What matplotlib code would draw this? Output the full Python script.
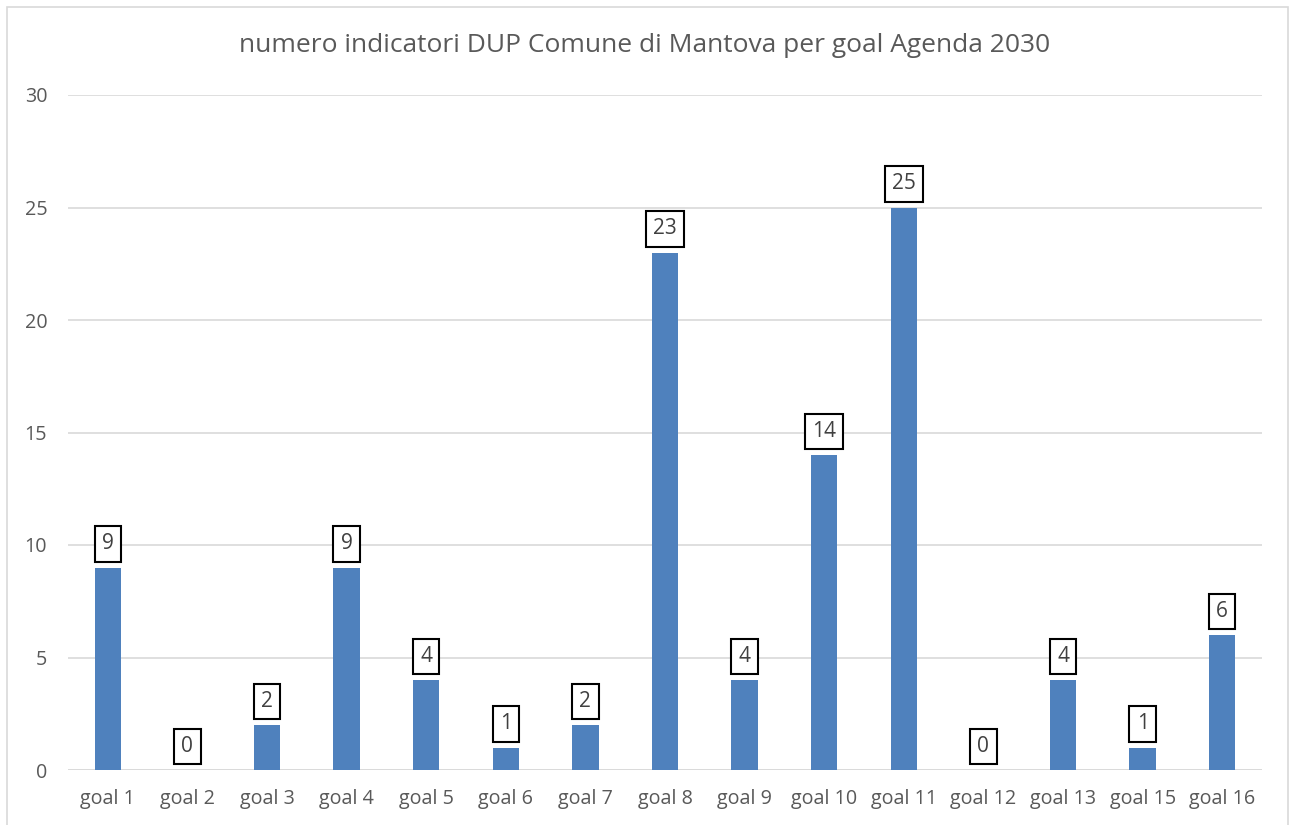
import matplotlib.pyplot as plt
from matplotlib.patches import Rectangle

goals = ["goal 1", "goal 2", "goal 3", "goal 4", "goal 5", "goal 6", "goal 7", "goal 8",
         "goal 9", "goal 10", "goal 11", "goal 12", "goal 13", "goal 15", "goal 16"]
counts = [9, 0, 2, 9, 4, 1, 2, 23, 4, 14, 25, 0, 4, 1, 6]
yticks = [0, 5, 10, 15, 20, 25, 30]

plt.rcParams['font.family'] = ['Open Sans', 'DejaVu Sans']

fig = plt.figure(figsize=(12.9, 8.25), dpi=100)
ax = fig.add_axes([68 / 1290, 1 - 770 / 825, (1262 - 68) / 1290, (770 - 95) / 825])

x = range(len(goals))
ax.bar(x, counts, width=0.33, color="#4F81BD", zorder=3)

# boxed value labels above each bar
for xi, v in zip(x, counts):
    ax.annotate(str(v), (xi, v), xytext=(0, 9.5), textcoords="offset points",
                ha="center", va="bottom", fontsize=15, color="#404040",
                bbox=dict(boxstyle="square,pad=0.35", fc="white", ec="black", lw=1.5),
                zorder=5)

ax.set_xlim(-0.5, len(goals) - 0.5)
ax.set_ylim(0, 30)
ax.set_yticks(yticks)
ax.set_xticks(list(x))
ax.set_xticklabels(goals)
ax.tick_params(axis="both", length=0, labelsize=14.2, colors="#595959")
ax.tick_params(axis="x", pad=14)
ax.tick_params(axis="y", pad=15)
ax.grid(axis="y", color="#D9D9D9", linewidth=1.2, zorder=0)
for s in ax.spines.values():
    s.set_visible(False)
ax.axhline(0, color="#D9D9D9", linewidth=1.2, zorder=1)

fig.text(0.5, 1 - 45 / 825, "numero indicatori DUP Comune di Mantova per goal Agenda 2030",
         ha="center", va="center", fontsize=19, color="#595959")

fig.patches.append(Rectangle((7 / 1290, -0.1), (1288 - 7) / 1290, 1.1 - 7 / 825,
                             transform=fig.transFigure, fill=False, ec="#D9D9D9", lw=1.2))

fig.savefig("out.png", dpi=100)
